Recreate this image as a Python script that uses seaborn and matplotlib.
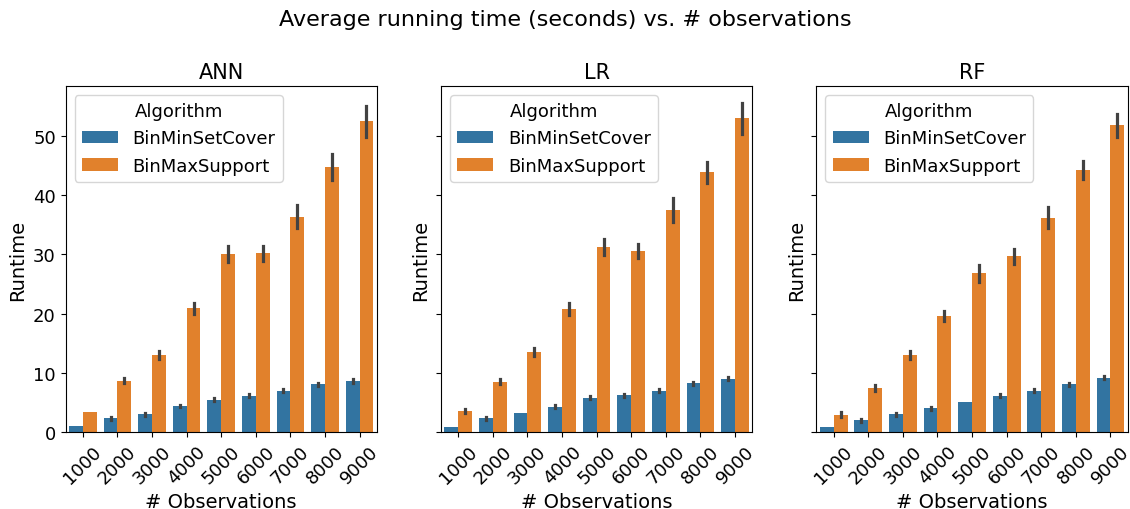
import numpy as np
import pandas as pd
import matplotlib
matplotlib.use("Agg")
import matplotlib.pyplot as plt
import seaborn as sns

observations = [1000, 2000, 3000, 4000, 5000, 6000, 7000, 8000, 9000]
algorithms = ["BinMinSetCover", "BinMaxSupport"]
models = ["ANN", "LR", "RF"]

# Mean runtime (seconds) per model and algorithm
ann_setcover = [1.0, 2.3, 3.0, 4.4, 5.45, 6.1, 7.0, 8.1, 8.65]
ann_support = [3.4, 8.7, 13.0, 20.9, 30.0, 30.2, 36.4, 44.7, 52.5]
lr_setcover = [0.9, 2.35, 3.2, 4.3, 5.8, 6.2, 7.0, 8.2, 9.0]
lr_support = [3.5, 8.5, 13.5, 20.8, 31.3, 30.6, 37.5, 43.9, 53.0]
rf_setcover = [0.9, 1.95, 3.0, 4.0, 5.1, 6.1, 7.0, 8.1, 9.15]
rf_support = [2.9, 7.4, 13.0, 19.6, 26.8, 29.7, 36.2, 44.3, 51.8]

# Half-width of the spread around each mean
ann_setcover_err = [0.0, 0.25, 0.25, 0.2, 0.25, 0.25, 0.25, 0.25, 0.35]
ann_support_err = [0.0, 0.45, 0.65, 0.95, 1.35, 1.25, 1.95, 2.2, 2.6]
lr_setcover_err = [0.0, 0.25, 0.0, 0.25, 0.25, 0.25, 0.3, 0.3, 0.25]
lr_support_err = [0.35, 0.4, 0.65, 0.95, 1.35, 1.15, 2.05, 1.8, 2.65]
rf_setcover_err = [0.0, 0.2, 0.25, 0.25, 0.0, 0.25, 0.25, 0.25, 0.25]
rf_support_err = [0.4, 0.5, 0.7, 0.9, 1.4, 1.3, 1.75, 1.55, 2.0]

series = {
    "ANN": [(ann_setcover, ann_setcover_err), (ann_support, ann_support_err)],
    "LR": [(lr_setcover, lr_setcover_err), (lr_support, lr_support_err)],
    "RF": [(rf_setcover, rf_setcover_err), (rf_support, rf_support_err)],
}

# Two runs per cell (mean - err, mean + err): their mean is the bar height
# and their full range is the interval drawn as the error bar.
rows = []
for model in models:
    for alg, (means, errs) in zip(algorithms, series[model]):
        for n, m, e in zip(observations, means, errs):
            rows.append({"Model": model, "# Observations": n,
                         "Algorithm": alg, "Runtime": m - e})
            rows.append({"Model": model, "# Observations": n,
                         "Algorithm": alg, "Runtime": m + e})
df = pd.DataFrame(rows)

plt.rcParams["font.size"] = 14

fig, axes = plt.subplots(1, 3, figsize=(11.3, 5.1), dpi=100, sharey=True)
for ax, model in zip(axes, models):
    sub = df[df["Model"] == model]
    sns.barplot(data=sub, x="# Observations", y="Runtime", hue="Algorithm",
                order=observations, hue_order=algorithms,
                errorbar=("pi", 100), err_kws={"linewidth": 2.3}, ax=ax)
    ax.set_title(model, fontsize=15)
    ax.set_xlabel("# Observations", fontsize=14)
    ax.set_ylabel("Runtime", fontsize=14)
    ax.yaxis.label.set_visible(True)
    ax.tick_params(axis="x", labelrotation=45, labelsize=13)
    ax.tick_params(axis="y", labelsize=13, labelleft=(ax is axes[0]))
    sns.move_legend(ax, "upper left", title="Algorithm", fontsize=13,
                    title_fontsize=13)

fig.suptitle("Average running time (seconds) vs. # observations", fontsize=16)
fig.subplots_adjust(left=0.058, right=0.998, top=0.829, bottom=0.151,
                    wspace=0.206)
fig.savefig("out.png", dpi=100)
